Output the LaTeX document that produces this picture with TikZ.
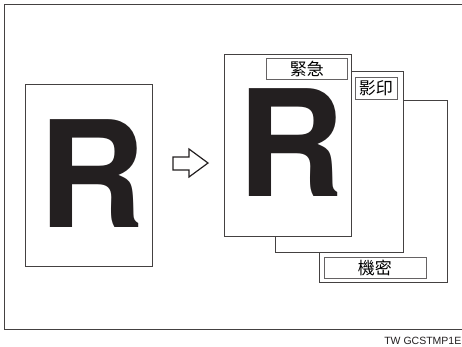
\documentclass[tikz,border=0pt]{standalone}
\usepackage{fontspec}
\setmainfont{Liberation Sans}
\newfontfamily\heros{TeX Gyre Heros}
\newfontfamily\cjk{Noto Sans CJK TC}
\definecolor{ink}{HTML}{231F20}
\begin{document}
\begin{tikzpicture}[x=1pt,y=-1pt,
  page/.style={draw=ink!85,line width=0.9pt,fill=white,inner sep=0pt,anchor=north west},
  tag/.style={draw=ink!70,line width=0.9pt,fill=white,inner sep=0pt,anchor=north west,font=\cjk\fontsize{17}{17}\selectfont},
  bigR/.style={inner sep=0pt,anchor=base,text=ink,font=\heros\bfseries\fontsize{148}{148}\selectfont}]
\useasboundingbox (0,0) rectangle (462,346);
\begin{scope}
\clip (0,0) rectangle (462,346);
\draw[draw=ink!85,line width=0.9pt] (4,4) rectangle (480,329);
\end{scope}
\node[inner sep=0pt,anchor=base east,text=ink,font=\fontsize{10.5}{10.5}\selectfont] (foot) at (461.5,344) {TW GCSTMP1E};
% left page
\node[page,minimum width=127pt,minimum height=182pt] (src) at (25,84) {};
\node[bigR] (srcR) at (92,227) {R};
% arrow
\draw[draw=ink,line width=1.2pt,fill=white] (173,157) -- (189,157) -- (189,149) -- (208,163) -- (189,177) -- (189,170) -- (173,170) -- cycle;
\coordinate (arr) at (190,163);
% back page
\node[page,minimum width=128pt,minimum height=182pt] (back) at (319,100) {};
\node[tag,minimum width=102pt,minimum height=21pt] (t3) at (323.5,257) {機密};
% middle page
\node[page,minimum width=128pt,minimum height=181pt] (mid) at (275,71) {};
\node[tag,minimum width=42pt,minimum height=22pt] (t2) at (354.5,77) {影印};
% front page
\node[page,minimum width=127pt,minimum height=182pt] (front) at (224,54) {};
\node[tag,minimum width=81pt,minimum height=21pt] (t1) at (266,58) {緊急};
\node[bigR] (frontR) at (290.5,196.5) {R};
\end{tikzpicture}
\end{document}
